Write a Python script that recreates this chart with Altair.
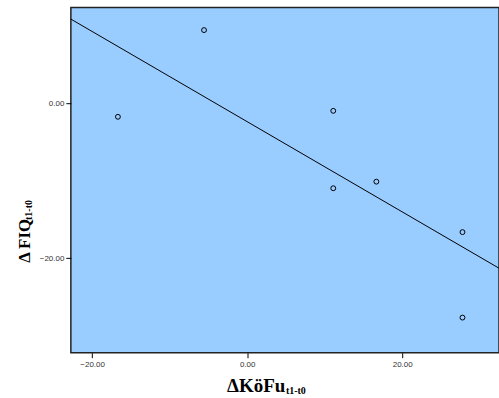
import altair as alt
import pandas as pd

# Data
dkoefu = [-16.67, -5.56, 11.11, 11.11, 16.67, 27.78, 27.78]
dfiq = [-1.76, 9.43, -0.99, -10.98, -10.13, -16.64, -27.67]

x_ticks = [-20, 0, 20]
y_ticks = [-20, 0]
x_domain = [-22.74, 32.49]
y_domain = [-32.2, 12.36]

x_title_main = ["ΔKöFu"]
x_title_sub = ["t1-t0"]
y_title_main = ["Δ FIQ"]
y_title_sub = ["t1-t0"]

df = pd.DataFrame({"x": dkoefu, "y": dfiq})

xs = alt.Scale(domain=x_domain, nice=False, zero=False)
ys = alt.Scale(domain=y_domain, nice=False, zero=False)

xax = alt.Axis(values=x_ticks, format=".2f", title=None, grid=False, domain=False,
               tickSize=5, tickColor="black", labelFont="Liberation Sans",
               labelFontSize=8, labelColor="#333", labelPadding=3)
yax = alt.Axis(values=y_ticks, format=".2f", title=None, grid=False, domain=False,
               tickSize=5, tickColor="black", labelFont="Liberation Sans",
               labelFontSize=8, labelColor="#333", labelPadding=2)

base = alt.Chart(df)

points = base.mark_point(shape="circle", filled=False, color="black", size=24,
                         strokeWidth=1, opacity=1).encode(
    x=alt.X("x:Q", scale=xs, axis=xax),
    y=alt.Y("y:Q", scale=ys, axis=yax),
)

reg = base.transform_regression("x", "y", extent=x_domain).mark_line(
    color="black", strokeWidth=1, clip=True).encode(
    x=alt.X("x:Q", scale=xs),
    y=alt.Y("y:Q", scale=ys),
)

serif = "Liberation Serif"

xt_main = alt.Chart(pd.DataFrame({"t": x_title_main})).mark_text(
    font=serif, fontWeight="bold", fontSize=19, align="left", baseline="alphabetic",
    color="black").encode(text="t:N", x=alt.value(156.5), y=alt.value(385.5))
xt_sub = alt.Chart(pd.DataFrame({"t": x_title_sub})).mark_text(
    font=serif, fontWeight="bold", fontSize=10, align="left", baseline="alphabetic",
    color="black").encode(text="t:N", x=alt.value(215.5), y=alt.value(387.5))

yt_main = alt.Chart(pd.DataFrame({"t": y_title_main})).mark_text(
    font=serif, fontWeight="bold", fontSize=17, align="left", baseline="alphabetic",
    angle=270, color="black").encode(text="t:N", x=alt.value(-40.5), y=alt.value(256))
yt_sub = alt.Chart(pd.DataFrame({"t": y_title_sub})).mark_text(
    font=serif, fontWeight="bold", fontSize=10, align="left", baseline="alphabetic",
    angle=270, color="black").encode(text="t:N", x=alt.value(-38.5), y=alt.value(213))

chart = alt.layer(points, reg, xt_main, xt_sub, yt_main, yt_sub).properties(
    width=429, height=346,
    padding={"left": 71, "top": 7, "right": 0, "bottom": 45},
    autosize=alt.AutoSizeParams(type="none"),
    background="white",
).configure_view(
    fill="#99CCFF", stroke="#222222", strokeWidth=1.5
)

chart.save("out.html", embed_options={"renderer": "svg", "actions": False})
